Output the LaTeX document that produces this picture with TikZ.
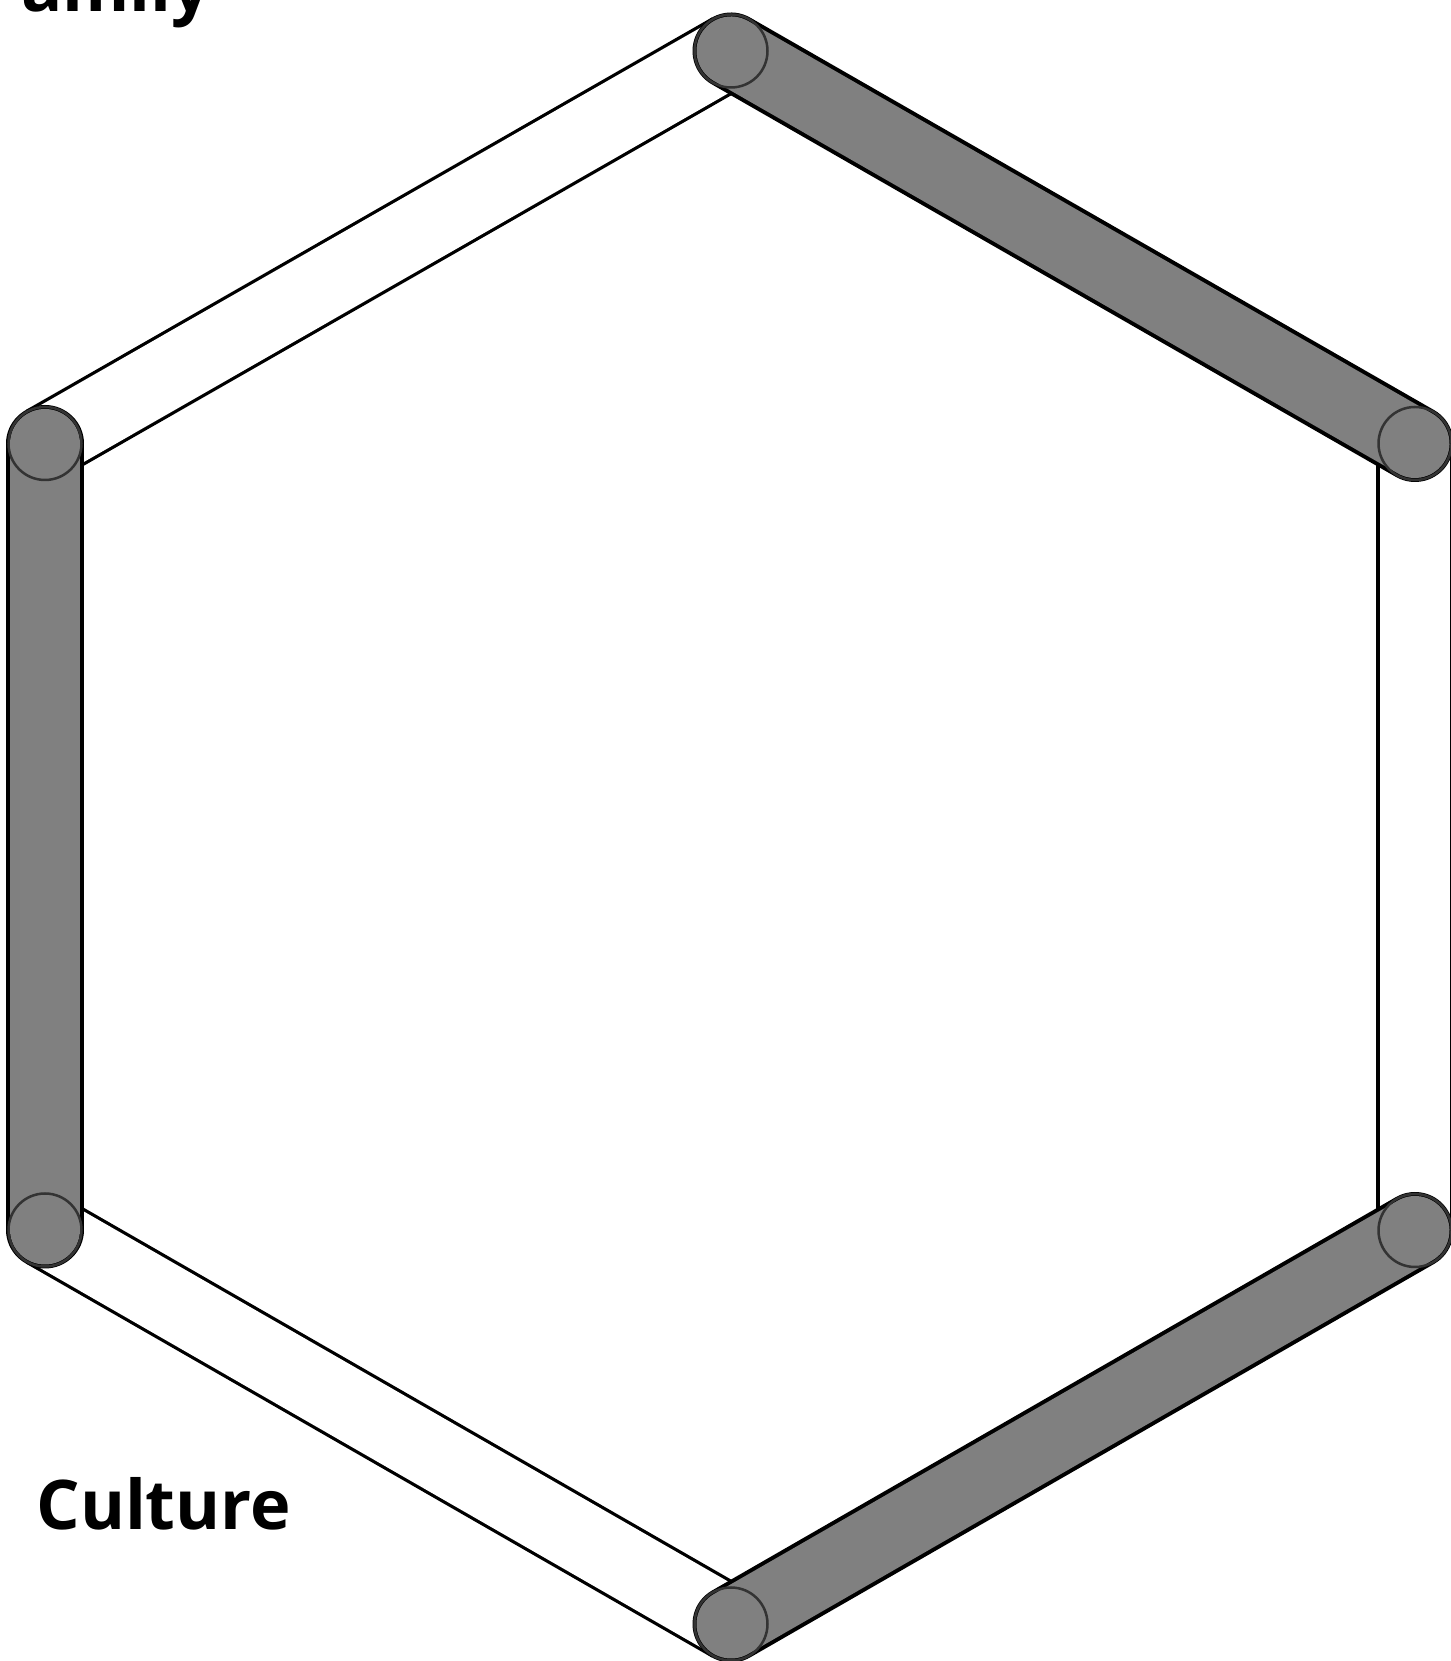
\documentclass[tikz,border=0pt]{standalone}
\usepackage{fontspec}
\setmainfont{Open Sans}
\begin{document}
\begin{tikzpicture}[x=1cm,y=1cm,
  hollowout/.style={line width=1.545cm,black},
  hollowin/.style={line width=1.415cm,white},
  rodout/.style={line width=1.54cm,black,line cap=round},
  rodin/.style={line width=1.38cm,black!50,line cap=round},
  rodend/.style={line width=0.05cm,black!80},
  word/.style={font=\fontsize{39}{47}\selectfont\bfseries,inner sep=0pt}]
\useasboundingbox (0,0) rectangle (29,33.22);

\coordinate (top) at (14.62,32.2);
\coordinate (upright) at (28.3,24.35);
\coordinate (lowright) at (28.3,8.61);
\coordinate (bottom) at (14.62,0.74);
\coordinate (lowleft) at (0.9,8.62);
\coordinate (upleft) at (0.9,24.35);

\draw[hollowout] (top) -- (upleft);
\draw[hollowin] (top) -- (upleft);
\draw[hollowout] (upright) -- (lowright);
\draw[hollowin] (upright) -- (lowright);
\draw[hollowout] (lowleft) -- (bottom);
\draw[hollowin] (lowleft) -- (bottom);

\draw[rodout] (top) -- (upright);
\draw[rodin] (top) -- (upright);
\draw[rodend] (top) circle (0.73);
\draw[rodend] (upright) circle (0.73);

\draw[rodout] (upleft) -- (lowleft);
\draw[rodin] (upleft) -- (lowleft);
\draw[rodend] (upleft) circle (0.73);
\draw[rodend] (lowleft) circle (0.73);

\draw[rodout] (lowright) -- (bottom);
\draw[rodin] (lowright) -- (bottom);
\draw[rodend] (lowright) circle (0.73);
\draw[rodend] (bottom) circle (0.73);

\node[word,anchor=base east] (family) at (4.22,32.98) {Family};
\node[word,anchor=base west] (culture) at (0.72,2.62) {Culture};
\end{tikzpicture}
\end{document}
